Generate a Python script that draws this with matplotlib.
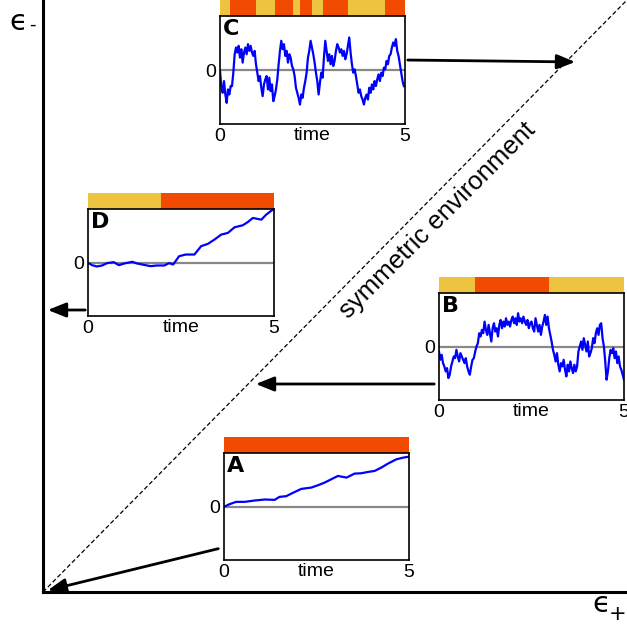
import numpy as np
import matplotlib.pyplot as plt
from matplotlib.patches import FancyArrowPatch

plt.rcParams['font.family'] = ['Liberation Sans', 'DejaVu Sans']

W, H = 627, 629
COLORS = {'yellow': '#EDC340', 'red': '#F24A00'}

# regime strips above each inset: switching times and state in between
A_switch = [0, 5]
A_state = ['red']
B_switch = [0, 0.98, 2.97, 5]
B_state = ['yellow', 'red', 'yellow']
C_switch = [0, 0.27, 0.96, 1.49, 1.96, 2.16, 2.48, 2.79, 3.47, 4.46, 5]
C_state = ['yellow', 'red'] * 5
D_switch = [0, 1.96, 5]
D_state = ['yellow', 'red']

# traces (y in arbitrary units, zero line = 0)
A_time = [0, 0.15, 0.33, 0.56, 0.83, 1.10, 1.37, 1.50, 1.68, 1.86, 2.09, 2.36,
          2.54, 2.72, 2.90, 3.08, 3.31, 3.53, 3.71, 3.89, 4.07, 4.25, 4.43,
          4.66, 4.84, 5.0]
A_vals = [0, 8, 15, 15, 19, 22, 21, 30, 32, 42, 54, 58, 65, 73, 83, 93, 88,
          100, 101, 105, 108, 118, 130, 143, 148, 151]

D_time = [0, 0.11, 0.24, 0.38, 0.51, 0.69, 0.83, 1.01, 1.19, 1.32, 1.50, 1.68,
          1.86, 2.05, 2.18, 2.29, 2.45, 2.63, 2.86, 3.04, 3.22, 3.40, 3.58,
          3.76, 3.94, 4.16, 4.30, 4.43, 4.66, 4.79, 4.93, 4.97]
D_vals = [0, -7, -11, -8, -1, 2, -7, -1, 3, -2, -6, -10, -8, -8, -1, -5, 20,
          25, 25, 50, 57, 70, 85, 90, 107, 113, 123, 135, 130, 145, 157, 160]

# B and C are sampled evenly over 0..5
B_vals = [-14, -39, -24, -49, -59, -74, -64, -94, -84, -59, -44, -29, -34, -9,
          -29, -44, -19, -29, -39, -49, -34, -59, -74, -84, -59, -39, -34, -14,
          1, 11, 41, 31, 51, 41, 76, 51, 36, 66, 41, 16, 56, 71, 46, 56, 31, 66,
          81, 56, 76, 61, 86, 66, 76, 61, 81, 91, 71, 86, 66, 101, 76, 86, 71,
          91, 76, 66, 81, 56, 71,
          76, 56, 46, 86, 66, 46, 66, 36, 61, 76, 96, 66, 91, 56, 36, 16, -9,
          -24, -44, -19, -54, -74, -49, -59, -39, -69, -89, -54, -74, -44, -64,
          -79, -54, -74, -59, -14, 1, 16, -9, 26, 6, -14, 16, -29, -19, -4, 26,
          11, 41, 56, 36, 66, 71, 26, 1, -44, -99, -74, -34, -9, -19, -4, -34,
          -14, -49, -29, -59, -69, -84, -99]
C_vals = [-2, -47, -67, -32, -72, -97, -57, -72, -47, -47, -7, 48, 68, 53, 73,
          38, 63, 23, 53, 68, 48, 78, 58, 73, 53, 43, 58, 18, -7, -32, -17, -52,
          -77, -42, -27, -17, -57, -22, -62, -42, -92, -77, -57, -27, 18, 58, 88,
          63, 78, 43, 58, 23, 48, 38, 13, 3, -17, -52, -67, -82, -102, -72, -82,
          -52, -32, -7, 38, 58, 88, 68,
          48, 23, -7, -32, -72, -37, -7, -22, 38, 88, 58, 28, 48, 18, 43, 13, 28,
          58, 78, 68, 53, 63, 43, 58, 33, 48, 73, 98, 53, 18, -7, 3, -17, -42,
          -67, -57, -77, -87, -102, -82, -72, -87, -52, -67, -42, -57, -32, -47,
          -27, -12, -32, -7, -17, 8, 3, 28, 18, 43, 48, 68, 83, 73, 93, 58, 43,
          18, -7, -32, -47]


def box(x0, y0, x1, y1):
    # pixel box (top-left origin) -> figure fraction rect
    return [x0 / W, 1 - y1 / H, (x1 - x0) / W, (y1 - y0) / H]


def pt(x, y):
    return (x / W, 1 - y / H)


fig = plt.figure(figsize=(W / 100, H / 100), dpi=100)

# main axes: epsilon+ vs epsilon-
ax = fig.add_axes(box(43, 0, 627, 592))
ax.set_xlim(0, 1)
ax.set_ylim(0, 1)
for side in ['top', 'right']:
    ax.spines[side].set_visible(False)
for side in ['left', 'bottom']:
    ax.spines[side].set_linewidth(2.2)
ax.set_xticks([])
ax.set_yticks([])
ax.plot([0, 1], [0, 1], color='black', lw=0.9, ls=(0, (3.5, 2)))
ax.text(0.676, 0.628, 'symmetric environment', rotation=45, ha='center',
        va='center', fontsize=18.5, rotation_mode='anchor')

fig.text(9 / W, 1 - 30 / H, '\u03f5', fontsize=21, family='DejaVu Sans', va='baseline')
fig.text(29 / W, 1 - 30 / H, '-', fontsize=13, family='DejaVu Sans', va='baseline')
fig.text(592 / W, 1 - 612 / H, '\u03f5', fontsize=21, family='DejaVu Sans', va='baseline')
fig.text(609 / W, 1 - 620 / H, '+', fontsize=15, family='DejaVu Sans', va='baseline')


def inset(frame, switch, state, t, v, letter):
    x0, y0, x1, y1 = frame
    bar = fig.add_axes(box(x0, y0 - 16, x1, y0))
    for a, b, s in zip(switch[:-1], switch[1:], state):
        bar.axvspan(a, b, color=COLORS[s], lw=0)
    bar.set_xlim(0, 5)
    bar.axis('off')

    a = fig.add_axes(box(x0, y0, x1, y1))
    a.axhline(0, color='#888888', lw=1.6)
    a.plot(t, v, color='#0000ff', lw=1.6)
    a.set_xlim(0, 5)
    a.set_ylim(-160, 162)
    a.set_xticks([0, 5])
    a.set_yticks([0])
    a.tick_params(length=0, labelsize=14, pad=3)
    for sp in a.spines.values():
        sp.set_linewidth(1.2)
    a.text(0.5, -0.03, 'time', transform=a.transAxes, ha='center', va='top', fontsize=14)
    a.text(0.015, 0.97, letter, transform=a.transAxes, ha='left', va='top',
           fontsize=16, fontweight='bold', family='DejaVu Sans')


inset((224, 453, 409, 560), A_switch, A_state, A_time, A_vals, 'A')
inset((439, 293, 624, 400), B_switch, B_state, np.linspace(0, 5, len(B_vals)), B_vals, 'B')
inset((220, 16, 405, 124), C_switch, C_state, np.linspace(0, 4.97, len(C_vals)), C_vals, 'C')
inset((88, 209, 274, 316), D_switch, D_state, D_time, D_vals, 'D')

# arrows from each inset to its place on the diagram
arrows = [((221, 548), (45, 591)),
          ((437, 384), (253, 384)),
          ((405, 60), (578, 62)),
          ((88, 310), (45, 310))]
for start, end in arrows:
    fig.add_artist(FancyArrowPatch(pt(*start), pt(*end), transform=fig.transFigure,
                                   arrowstyle='-|>,head_length=0.55,head_width=0.22',
                                   mutation_scale=20, lw=2, color='black'))

fig.savefig('out.png', dpi=100)
